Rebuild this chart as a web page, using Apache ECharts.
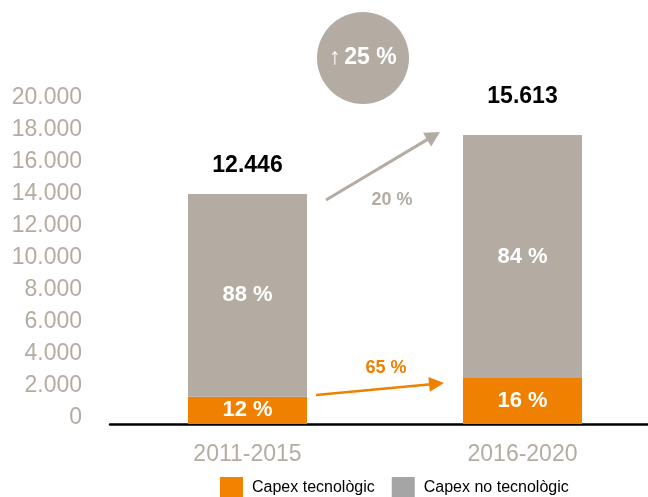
<!DOCTYPE html>
<html>
<head>
<meta charset="utf-8">
<script src="https://cdn.jsdelivr.net/npm/echarts@6/dist/echarts.min.js"></script>
<style>
  html, body { margin: 0; padding: 0; background: #fff; }
  #chart { width: 648px; height: 497px; }
</style>
</head>
<body>
<div id="chart"></div>
<script>
// periodes i valors (llegits de la imatge)
const periods = ['2011-2015', '2016-2020']
const capexTec = [1710, 2875]
const capexNoTec = [12665, 15185]
const shareTec = ['12 %', '16 %']
const shareNoTec = ['88 %', '84 %']
const totals = ['12.446', '15.613']
const growthTotal = '25 %'
const growthNoTec = '20 %'
const growthTec = '65 %'

const ORANGE = '#f08100'
const TAUPE = '#b4aca3'
const FONT = '"Liberation Sans", Arial, sans-serif'

const chart = echarts.init(document.getElementById('chart'))

// fletxa: linia + punta
function arrow (x1, y1, x2, y2, color, width, headLen, headHalf) {
  const dx = x2 - x1
  const dy = y2 - y1
  const len = Math.sqrt(dx * dx + dy * dy)
  const ux = dx / len
  const uy = dy / len
  const bx = x2 - ux * headLen
  const by = y2 - uy * headLen
  return [
    {
      type: 'line',
      shape: { x1: x1, y1: y1, x2: bx + ux * 2, y2: by + uy * 2 },
      style: { stroke: color, lineWidth: width }
    },
    {
      type: 'polygon',
      shape: {
        points: [[x2, y2], [bx - uy * headHalf, by + ux * headHalf], [bx + uy * headHalf, by - ux * headHalf]]
      },
      style: { fill: color }
    }
  ]
}

const option = {
  animation: false,
  textStyle: { fontFamily: FONT },
  grid: {
    left: 110,
    top: 104,
    width: 550,
    height: 320,
    outerBoundsMode: 'none',
    containLabel: false
  },
  legend: {
    left: 215,
    top: 472,
    itemWidth: 23,
    itemHeight: 21,
    itemGap: 17,
    icon: 'rect',
    selectedMode: false,
    textStyle: { fontSize: 16, color: '#000', fontFamily: FONT, padding: [12, 0, 0, 4] },
    data: [
      { name: 'Capex tecnològic', itemStyle: { color: '#f28200' } },
      { name: 'Capex no tecnològic', itemStyle: { color: '#a5a5a5' } }
    ]
  },
  xAxis: {
    type: 'category',
    data: periods,
    axisLine: { lineStyle: { color: '#000', width: 2.5 } },
    axisTick: { show: false },
    axisLabel: { color: TAUPE, fontSize: 23, margin: 19, fontFamily: FONT }
  },
  yAxis: {
    type: 'value',
    min: 0,
    max: 20000,
    interval: 2000,
    splitLine: { show: false },
    axisLine: { show: false },
    axisTick: { show: false },
    axisLabel: {
      color: TAUPE,
      fontSize: 23,
      margin: 28,
      verticalAlign: 'bottom',
      lineHeight: 13,
      fontFamily: FONT,
      formatter: v => v.toString().replace(/\B(?=(\d{3})+(?!\d))/g, '.')
    }
  },
  series: [
    {
      name: 'Capex tecnològic',
      type: 'bar',
      stack: 'capex',
      barWidth: 119,
      itemStyle: { color: ORANGE },
      label: {
        show: true,
        position: 'inside',
        color: '#fff',
        fontWeight: 'bold',
        fontSize: 22,
        fontFamily: FONT,
        formatter: p => shareTec[p.dataIndex]
      },
      data: capexTec
    },
    {
      name: 'Capex no tecnològic',
      type: 'bar',
      stack: 'capex',
      barWidth: 119,
      itemStyle: { color: TAUPE },
      label: {
        show: true,
        position: 'inside',
        color: '#fff',
        fontWeight: 'bold',
        fontSize: 22,
        fontFamily: FONT,
        formatter: p => shareNoTec[p.dataIndex]
      },
      data: capexNoTec
    },
    {
      // etiqueta del total damunt de cada barra
      name: 'total',
      type: 'bar',
      stack: 'capex',
      barWidth: 119,
      itemStyle: { color: 'transparent' },
      label: {
        show: true,
        position: 'top',
        color: '#000',
        fontWeight: 'bold',
        fontSize: 23,
        fontFamily: FONT,
        formatter: p => totals[p.dataIndex]
      },
      data: [{ value: 0, label: { distance: 17 } }, { value: 0, label: { distance: 27 } }]
    }
  ],
  graphic: [
    {
      type: 'circle',
      shape: { cx: 363, cy: 58, r: 46 },
      style: { fill: TAUPE }
    },
    {
      type: 'text',
      x: 363,
      y: 58,
      style: {
        text: '{a|↑} {b|' + growthTotal + '}',
        align: 'center',
        verticalAlign: 'middle',
        rich: {
          a: { fontSize: 23, fill: '#fff', fontFamily: FONT },
          b: { fontSize: 23, fill: '#fff', fontWeight: 'bold', fontFamily: FONT }
        }
      }
    },
    ...arrow(326, 200, 440, 132, TAUPE, 3, 15, 8),
    {
      type: 'text',
      x: 392,
      y: 200,
      style: {
        text: growthNoTec,
        align: 'center',
        verticalAlign: 'middle',
        fill: TAUPE,
        font: 'bold 18px ' + FONT
      }
    },
    ...arrow(316, 395, 444, 383, ORANGE, 2.5, 15, 7.5),
    {
      type: 'text',
      x: 386,
      y: 368,
      style: {
        text: growthTec,
        align: 'center',
        verticalAlign: 'middle',
        fill: ORANGE,
        font: 'bold 18px ' + FONT
      }
    }
  ]
}

chart.setOption(option)
</script>
</body>
</html>
